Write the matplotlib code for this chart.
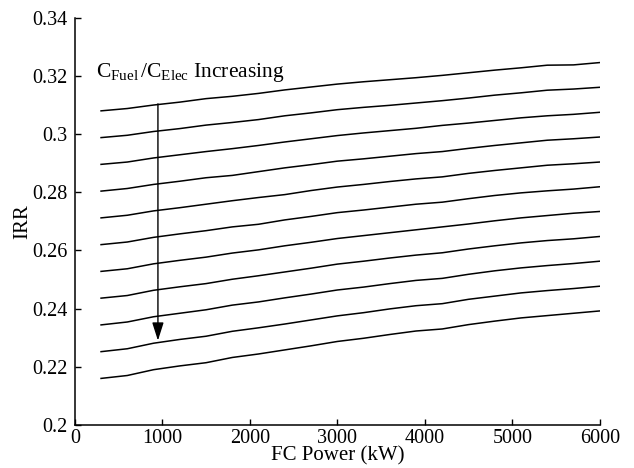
import numpy as np
import matplotlib
matplotlib.use("Agg")
from matplotlib import pyplot as plt

plt.rcParams['font.family'] = ['Liberation Serif', 'DejaVu Serif']
plt.rcParams['mathtext.fontset'] = 'custom'
plt.rcParams['mathtext.rm'] = 'Liberation Serif'
plt.rcParams['mathtext.it'] = 'Liberation Serif:italic'

# FC power (kW)
fc_power = [300, 600, 900, 1200, 1500, 1800, 2100, 2400, 2700, 3000,
            3300, 3600, 3900, 4200, 4500, 4800, 5100, 5400, 5700, 6000]

# IRR curves, top (lowest fuel/elec cost ratio) to bottom
irr_1 = [.3080, .3088, .3100, .3110, .3122, .3130, .3140, .3152, .3162, .3172,
         .3180, .3187, .3194, .3202, .3211, .3220, .3228, .3237, .3238, .3246]
irr_2 = [.2988, .2996, .3009, .3019, .3031, .3040, .3050, .3063, .3073, .3084,
         .3092, .3099, .3107, .3115, .3124, .3134, .3142, .3151, .3155, .3161]
irr_3 = [.2896, .2904, .2918, .2929, .2940, .2950, .2961, .2973, .2984, .2995,
         .3004, .3012, .3020, .3030, .3038, .3047, .3056, .3063, .3068, .3075]
irr_4 = [.2804, .2813, .2827, .2838, .2850, .2858, .2871, .2884, .2895, .2907,
         .2915, .2924, .2933, .2940, .2951, .2961, .2970, .2979, .2984, .2990]
irr_5 = [.2712, .2721, .2736, .2747, .2759, .2771, .2782, .2792, .2806, .2818,
         .2827, .2837, .2846, .2853, .2865, .2875, .2884, .2893, .2898, .2904]
irr_6 = [.2620, .2629, .2645, .2657, .2668, .2681, .2690, .2705, .2717, .2730,
         .2739, .2749, .2759, .2766, .2778, .2789, .2798, .2805, .2811, .2819]
irr_7 = [.2528, .2537, .2554, .2566, .2577, .2591, .2602, .2616, .2628, .2641,
         .2651, .2661, .2671, .2681, .2691, .2702, .2712, .2720, .2728, .2734]
irr_8 = [.2436, .2445, .2463, .2475, .2486, .2501, .2513, .2526, .2539, .2553,
         .2563, .2574, .2584, .2592, .2605, .2616, .2626, .2634, .2640, .2648]
irr_9 = [.2344, .2354, .2372, .2384, .2396, .2412, .2423, .2437, .2450, .2464,
         .2474, .2486, .2497, .2504, .2518, .2530, .2540, .2548, .2555, .2563]
irr_10 = [.2252, .2262, .2281, .2294, .2305, .2322, .2334, .2347, .2361, .2375,
          .2386, .2399, .2410, .2417, .2432, .2443, .2454, .2462, .2469, .2477]
irr_11 = [.2160, .2170, .2190, .2203, .2214, .2232, .2244, .2258, .2272, .2287,
          .2298, .2311, .2323, .2330, .2345, .2357, .2368, .2376, .2384, .2392]

curves = [irr_1, irr_2, irr_3, irr_4, irr_5, irr_6, irr_7, irr_8, irr_9, irr_10, irr_11]

x_ticks = [0, 1000, 2000, 3000, 4000, 5000, 6000]
y_ticks = [0.2, 0.22, 0.24, 0.26, 0.28, 0.3, 0.32, 0.34]

fig = plt.figure(figsize=(6.34, 4.68), dpi=100)
ax = fig.add_axes([0.118, 0.092, 0.828, 0.870])

for c in curves:
    ax.plot(fc_power, c, color='black', lw=1.1)

# arrow showing increasing fuel/electricity cost ratio
ax.annotate('', xy=(950, 0.2290), xytext=(950, 0.3104),
            arrowprops=dict(arrowstyle='-|>,head_length=1.1,head_width=0.35',
                            color='black', lw=1.0, shrinkA=0, shrinkB=0))
ax.text(245, 0.3212, r'$\mathrm{C_{Fuel}\,/C_{Elec}}$ Increasing',
        fontsize=15.5, va='center', ha='left')

ax.set_xlim(0, 6000)
ax.set_ylim(0.2, 0.34)
ax.set_xticks(x_ticks)
ax.set_xticklabels([str(t) for t in x_ticks])
ax.set_yticks(y_ticks)
ax.set_yticklabels(['%g' % t for t in y_ticks])
ax.tick_params(direction='in', length=4, width=1, labelsize=14.5)
ax.tick_params(axis='y', pad=5)
ax.tick_params(axis='x', pad=3)

ax.spines['top'].set_visible(False)
ax.spines['right'].set_visible(False)
ax.spines['left'].set_linewidth(1.1)
ax.spines['bottom'].set_linewidth(1.1)

ax.set_xlabel('FC Power (kW)', fontsize=15, labelpad=-1)
ax.set_ylabel('IRR', fontsize=15, labelpad=0)

fig.savefig('out.png', dpi=100)
